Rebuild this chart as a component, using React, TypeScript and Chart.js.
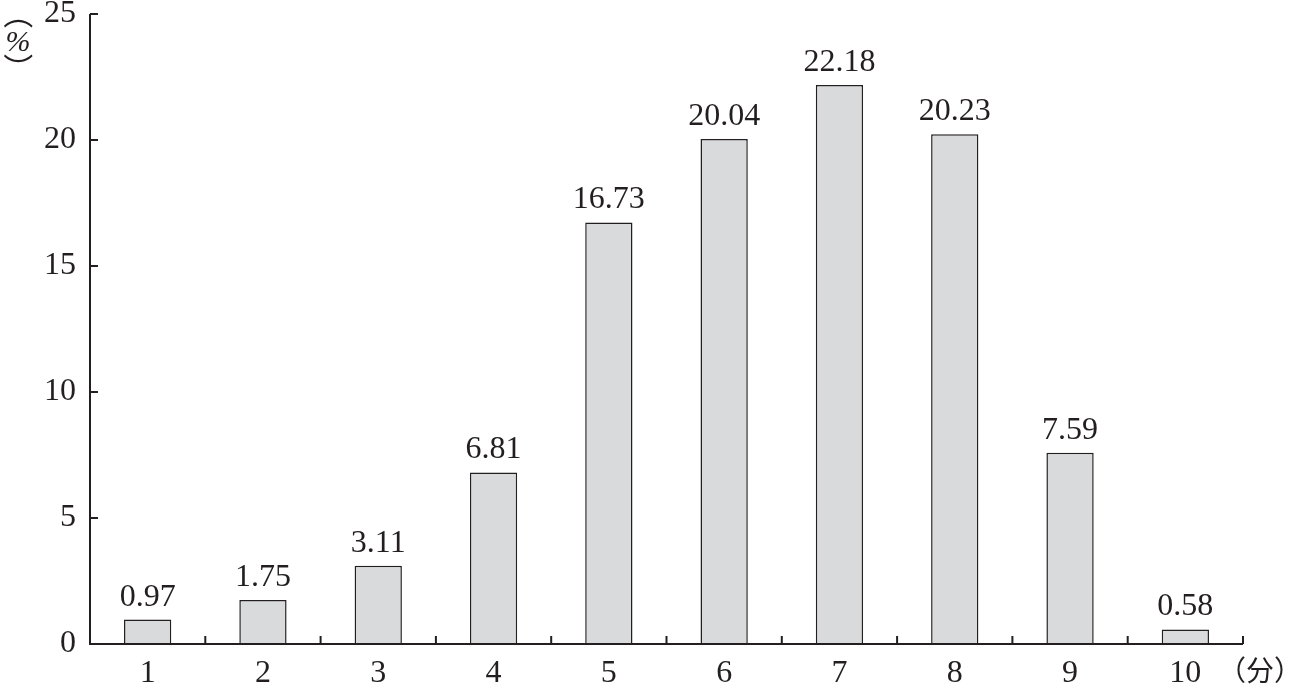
import React, { useEffect, useRef } from "react";
import { Chart, registerables } from "chart.js";

Chart.register(...registerables);

const categories = ["1", "2", "3", "4", "5", "6", "7", "8", "9", "10"];
const percentages = [0.97, 1.75, 3.11, 6.81, 16.73, 20.04, 22.18, 20.23, 7.59, 0.58];
const yTickValues = [0, 5, 10, 15, 20, 25];
const yAxisLabel = ["（", "%", "）"];
const xAxisLabel = "（分）";

const SERIF = '"Liberation Serif", "Times New Roman", Times, serif';
const CJK = '"Noto Sans CJK SC", "Noto Sans CJK JP", sans-serif';
const FS = 32;

const axesPlugin = {
  id: "customAxes",
  afterDatasetsDraw(chart: any) {
    const ctx = chart.ctx;
    const area = chart.chartArea;
    const xs = chart.scales.x;
    const ys = chart.scales.y;
    ctx.save();
    const meta = chart.getDatasetMeta(0);
    ctx.fillStyle = "#231f20";
    ctx.font = `${FS}px ${SERIF}`;
    ctx.textAlign = "center";
    ctx.textBaseline = "alphabetic";
    meta.data.forEach((el: any, i: number) => {
      ctx.fillText(percentages[i].toFixed(2), el.x, el.y - 14);
    });
    ctx.strokeStyle = "#231f20";
    ctx.lineWidth = 2;
    ctx.beginPath();
    ctx.moveTo(area.left, area.top);
    ctx.lineTo(area.left, area.bottom);
    ctx.lineTo(area.right, area.bottom);
    ctx.stroke();
    ctx.beginPath();
    yTickValues.forEach((v) => {
      const y = ys.getPixelForValue(v);
      ctx.moveTo(area.left, y);
      ctx.lineTo(area.left + 8, y);
    });
    const step = xs.getPixelForValue(1) - xs.getPixelForValue(0);
    for (let i = 0; i < categories.length; i++) {
      const x = xs.getPixelForValue(i) + step / 2;
      ctx.moveTo(x, area.bottom);
      ctx.lineTo(x, area.bottom - 8);
    }
    ctx.stroke();
    ctx.fillStyle = "#231f20";
    ctx.textAlign = "center";
    ctx.textBaseline = "middle";
    ctx.font = `30px ${CJK}`;
    const lx = 18;
    ctx.save();
    ctx.translate(lx, 14);
    ctx.rotate(Math.PI / 2);
    ctx.fillText(yAxisLabel[0], 0, 0);
    ctx.restore();
    ctx.font = `italic 30px ${SERIF}`;
    ctx.fillText(yAxisLabel[1], lx, 43);
    ctx.font = `30px ${CJK}`;
    ctx.save();
    ctx.translate(lx, 68);
    ctx.rotate(Math.PI / 2);
    ctx.fillText(yAxisLabel[2], 0, 0);
    ctx.restore();
    ctx.font = `28px ${CJK}`;
    ctx.textAlign = "center";
    ctx.fillText(xAxisLabel, 1260, 670);
    ctx.restore();
  },
};

export default function App() {
  const ref = useRef<HTMLCanvasElement>(null);
  useEffect(() => {
    if (!ref.current) return;
    let chart: any = null;
    let cancelled = false;
    const build = () => {
      if (cancelled || !ref.current) return;
      chart = new Chart(ref.current, {
        type: "bar",
        data: {
          labels: categories,
          datasets: [
            {
              data: percentages,
              backgroundColor: "#d9dadc",
              borderColor: "#231f20",
              borderWidth: 1.5,
              categoryPercentage: 1,
              barPercentage: 0.41,
            },
          ],
        },
        options: {
          responsive: false,
          animation: false,
          devicePixelRatio: 1,
          layout: { padding: { top: 14, right: 56, left: 0, bottom: 0 } },
          plugins: { legend: { display: false }, tooltip: { enabled: false } },
          scales: {
            x: {
              offset: true,
              grid: { display: false, drawTicks: false },
              border: { display: false },
              ticks: { color: "#231f20", font: { family: SERIF, size: FS }, padding: 10 },
              afterFit: (s: any) => {
                s.height = 46;
                s.paddingLeft = 0;
                s.paddingRight = 0;
              },
            },
            y: {
              min: 0,
              max: 25,
              grid: { display: false, drawTicks: false },
              border: { display: false },
              ticks: { stepSize: 5, color: "#231f20", font: { family: SERIF, size: FS }, padding: 14 },
              afterFit: (s: any) => {
                s.width = 90;
                s.paddingTop = 0;
                s.paddingBottom = 0;
              },
            },
          },
        },
        plugins: [axesPlugin],
      });
    };
    const fonts: any = (document as any).fonts;
    if (fonts && fonts.load) {
      Promise.all([
        fonts.load(`${FS}px "Liberation Serif"`),
        fonts.load('italic 30px "Liberation Serif"'),
        fonts.load('28px "Noto Sans CJK SC"', "（分）"),
      ])
        .catch(() => null)
        .then(build);
    } else {
      build();
    }
    return () => {
      cancelled = true;
      if (chart) chart.destroy();
    };
  }, []);
  return (
    <div style={{ position: "fixed", left: 0, top: 0, width: 1299, height: 690, background: "#fff" }}>
      <canvas ref={ref} width={1299} height={690} />
    </div>
  );
}
